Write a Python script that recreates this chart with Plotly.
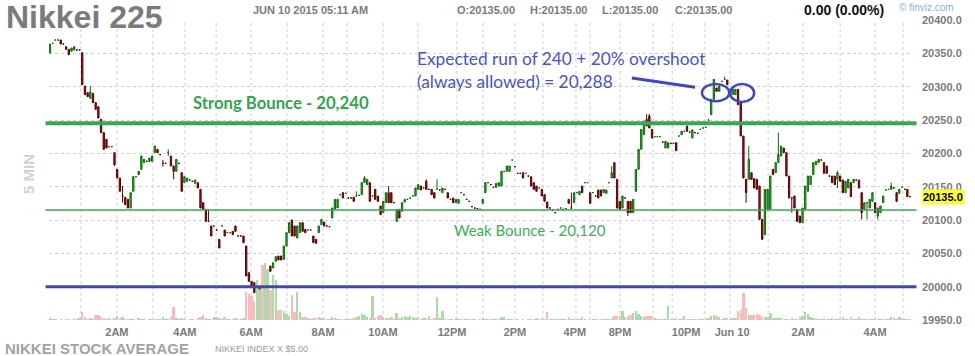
import plotly.graph_objects as go

# ---------------- data (5-minute bars) ----------------
opens = [20351,20365,20370,20370,20370,20364,20360,20356,20353,20355,20355,20355,20351,20301,20291,20283,20290,20276,20270,20251,
20231,20221,20210,20210,20201,20176,20163,20136,20134,20131,20118,20143,20165,20168,20176,20186,20188,20188,20188,20201,
20206,20198,20185,20185,20201,20196,20181,20173,20185,20171,20156,20158,20160,20158,20155,20156,20146,20126,20116,20098,
20091,20091,20085,20071,20091,20085,20081,20081,20083,20091,20076,20076,20076,20061,20021,20008,20006,19993,19996,20010,
20006,20015,20031,20028,20038,20046,20046,20041,20061,20081,20100,20091,20073,20081,20096,20086,20085,20085,20076,20071,
20081,20093,20097,20091,20090,20103,20116,20118,20138,20141,20140,20133,20133,20134,20136,20137,20138,20156,20153,20156,
20136,20146,20136,20121,20111,20126,20141,20141,20126,20098,20116,20113,20127,20131,20133,20136,20136,20146,20151,20148,
20158,20146,20146,20141,20146,20145,20141,20146,20141,20131,20133,20126,20125,20141,20138,20131,20128,20120,20118,20117,
20116,20125,20141,20156,20153,20149,20149,20151,20151,20173,20173,20173,20190,20180,20170,20170,20171,20170,20166,20165,
20156,20151,20148,20146,20138,20127,20118,20115,20111,20116,20118,20116,20117,20131,20118,20126,20141,20138,20151,20156,
20156,20141,20141,20136,20145,20145,20141,20140,20156,20163,20186,20161,20128,20118,20133,20128,20128,20111,20143,20176,
20206,20228,20251,20256,20236,20225,20225,20225,20217,20208,20208,20215,20215,20216,20226,20228,20233,20241,20232,20223,
20231,20230,20236,20238,20239,20250,20258,20281,20298,20293,20308,20311,20310,20295,20288,20288,20296,20276,20226,20161,
20161,20171,20162,20161,20151,20101,20078,20116,20116,20176,20171,20186,20196,20208,20201,20166,20133,20136,20116,20106,
20096,20116,20143,20153,20168,20183,20186,20190,20186,20181,20166,20166,20166,20161,20166,20160,20141,20148,20156,20156,
20160,20160,20141,20116,20126,20118,20128,20126,20106,20111,20126,20145,20146,20146,20148,20141,20140,20149,20146,20146,
20135]
closes = [20364,20365,20370,20370,20364,20364,20356,20348,20358,20360,20355,20355,20303,20288,20285,20292,20276,20266,20253,20231,
20206,20208,20210,20210,20183,20163,20143,20136,20123,20118,20141,20165,20165,20173,20196,20191,20188,20193,20196,20211,
20201,20198,20185,20185,20201,20181,20173,20191,20185,20143,20165,20163,20160,20158,20160,20148,20118,20116,20098,20098,
20076,20091,20085,20058,20091,20076,20081,20081,20078,20083,20076,20076,20066,20016,20008,20001,19991,19997,20001,20003,
20013,20025,20023,20036,20045,20040,20040,20061,20081,20096,20076,20076,20091,20096,20083,20081,20085,20085,20066,20065,
20091,20101,20091,20091,20090,20118,20131,20131,20138,20133,20140,20133,20133,20128,20136,20137,20156,20163,20161,20128,
20136,20131,20128,20108,20128,20141,20126,20126,20126,20116,20103,20126,20131,20131,20133,20136,20148,20153,20145,20148,
20146,20146,20138,20133,20146,20145,20148,20146,20133,20131,20126,20131,20131,20141,20138,20131,20128,20120,20118,20117,
20116,20131,20156,20156,20153,20149,20155,20156,20173,20173,20181,20181,20190,20180,20170,20170,20163,20170,20166,20151,
20146,20143,20148,20136,20128,20118,20118,20115,20111,20116,20118,20116,20117,20125,20118,20141,20141,20143,20141,20156,
20156,20125,20141,20136,20133,20136,20146,20145,20156,20171,20163,20118,20116,20136,20133,20111,20111,20131,20176,20206,
20236,20248,20241,20238,20223,20225,20225,20225,20217,20218,20216,20215,20215,20204,20226,20233,20233,20233,20232,20235,
20231,20230,20236,20238,20239,20250,20281,20311,20293,20301,20308,20311,20303,20295,20296,20296,20273,20226,20163,20141,
20191,20161,20148,20146,20101,20071,20146,20146,20166,20168,20186,20198,20211,20201,20166,20133,20133,20118,20098,20096,
20118,20151,20166,20166,20186,20188,20191,20190,20170,20170,20166,20156,20153,20171,20158,20141,20158,20161,20135,20161,
20160,20148,20111,20126,20126,20131,20141,20111,20118,20121,20136,20145,20146,20151,20148,20128,20146,20149,20146,20135,
20135]
# explicit wick extremes where a wick sticks out of the body: {bar: (high, low)}
wicks = {0: (20364, 20349), 15: (20301, 20281), 24: (20201, 20181), 27: (20151, 20126), 42: (20190, 20180),
         44: (20206, 20196), 46: (20181, 20161), 59: (20116, 20098), 114: (20143, 20136), 117: (20166, 20156),
         126: (20151, 20126), 140: (20161, 20146), 144: (20161, 20146), 194: (20141, 20118), 209: (20181, 20163),
         210: (20187, 20163), 215: (20128, 20106), 222: (20259, 20241), 223: (20259, 20238), 251: (20315, 20311),
         259: (20161, 20126), 260: (20211, 20161), 271: (20231, 20186), 276: (20133, 20111), 293: (20174, 20148),
         302: (20141, 20101), 304: (20126, 20101), 308: (20118, 20101), 313: (20156, 20146)}
# volume per bar (contracts)
volumes = [20,10,10,0,10,0,10,10,0,10,10,20,80,30,10,20,10,50,50,30,
20,10,20,10,20,40,20,30,10,10,10,10,0,20,10,10,0,10,10,10,
10,10,30,10,10,30,130,20,10,20,10,0,10,10,0,20,30,50,20,10,
10,30,30,20,10,30,10,10,10,20,10,10,20,280,260,240,180,400,300,550,
570,500,300,450,400,100,100,90,60,40,250,80,280,80,30,30,20,10,20,20,
30,20,20,10,10,30,20,10,10,10,10,10,10,20,30,40,60,50,30,20,
240,20,40,50,30,20,20,30,10,70,20,30,40,30,40,30,20,30,10,20,
20,40,10,20,230,20,90,10,10,10,10,20,10,10,10,10,10,10,10,0,
10,20,10,10,10,10,10,10,30,30,10,10,10,0,10,0,10,0,10,10,
10,20,10,20,10,80,10,10,10,10,10,10,10,30,10,10,10,10,30,10,
0,10,10,10,10,10,10,10,10,20,40,40,40,90,30,40,50,70,90,60,
40,30,40,40,40,20,10,10,10,10,140,10,10,20,10,10,40,10,10,10,
10,10,10,10,10,20,40,50,40,30,10,20,20,10,20,20,90,100,270,120,
50,50,50,60,50,30,30,30,70,20,20,20,20,10,10,10,20,10,10,30,
40,80,60,30,20,10,10,10,20,10,10,20,10,10,20,30,10,10,30,10,
10,30,10,10,10,10,10,20,10,10,10,10,10,30,20,10,30,10,10,10,
10]

highs = [max(o, c) for o, c in zip(opens, closes)]
lows = [min(o, c) for o, c in zip(opens, closes)]
for k, (h, l) in wicks.items():
    highs[k] = h
    lows[k] = l

bars = list(range(len(opens)))

tick_pos = [24.9, 50.2, 74.8, 101.6, 123.9, 149.6, 173.0, 195.3, 212.1, 236.7, 253.8, 280.2, 307.0]
tick_text = ["2AM", "4AM", "6AM", "8AM", "10AM", "12PM", "2PM", "4PM", "8PM", "10PM", "Jun 10", "2AM", "4AM"]
grid_pos = [11.5, 24.9, 38.3, 50.2, 61.8, 74.8, 88.2, 101.6, 110.5, 123.9, 136.9, 151.4, 161.1, 173.0, 183.4,
            195.7, 200.9, 212.1, 224.4, 231.5, 243.7, 253.0, 267.2, 280.2, 294.0, 307.0, 317.4]
price_ticks = [19950, 20000, 20050, 20100, 20150, 20200, 20250, 20300, 20350, 20400]

strong_level = 20245
weak_level = 20115
base_level = 20000
last_price = 20135

# ---------------- figure ----------------
W, H = 975, 356
L, R, T, B = 49, 62, 20, 36
PW, PH = W - L - R, H - T - B
XR = [-0.37, 321.1]


def px(x):
    return (x - L) / PW


def py(y):
    return (H - B - y) / PH


vol_colors = ["#a9dca9" if c >= o else "#f8bcbc" for o, c in zip(opens, closes)]

fig = go.Figure()
fig.add_trace(go.Bar(x=bars, y=volumes, yaxis="y2", marker=dict(color=vol_colors, line=dict(width=0)),
                     width=0.9, hoverinfo="skip", showlegend=False))
fig.add_trace(go.Candlestick(
    x=bars, open=opens, high=highs, low=lows, close=closes,
    increasing=dict(line=dict(color="#0d6b0d", width=1), fillcolor="#2fc42f"),
    decreasing=dict(line=dict(color="#5a0000", width=1), fillcolor="#c01018"),
    whiskerwidth=0, hoverinfo="skip", showlegend=False,
))

shapes = []
for g in grid_pos:
    shapes.append(dict(type="line", xref="x", yref="paper", x0=g, x1=g, y0=0, y1=1,
                       line=dict(color="#cfcfcf", width=1, dash="3px,3px"), layer="below"))
for lvl, col, wd in [(strong_level, "#3aa655", 4), (weak_level, "#3aa655", 1.5), (base_level, "#4346b6", 3)]:
    shapes.append(dict(type="line", xref="paper", yref="y", x0=-0.004, x1=1.004, y0=lvl, y1=lvl,
                       line=dict(color=col, width=wd), layer="above"))
# hand-drawn markup
shapes.append(dict(type="line", xref="x", yref="y", x0=216.5, x1=240.0, y0=20313, y1=20299,
                   line=dict(color="#3f47c4", width=3)))
shapes.append(dict(type="circle", xref="x", yref="y", x0=242.6, x1=252.7, y0=20278, y1=20304,
                   line=dict(color="#3f47c4", width=2.5)))
shapes.append(dict(type="circle", xref="x", yref="y", x0=253.0, x1=262.0, y0=20277, y1=20304,
                   line=dict(color="#3f47c4", width=2.5)))

ann = []


def txt(x, y, s, size, color, bold=False, family="Liberation Sans, Arial", xanchor="left", angle=0):
    ann.append(dict(xref="paper", yref="paper", x=px(x), y=py(y), text=s, showarrow=False,
                    xanchor=xanchor, yanchor="middle", textangle=angle,
                    font=dict(size=size, color=color, family=family, weight="bold" if bold else "normal")))


txt(4, 17, "Nikkei 225", 32, "#7b7b7b", True)
txt(251, 10, "JUN 10 2015 05:11 AM", 11, "#7b7b7b", True)
txt(455, 10, "O:20135.00", 11, "#7b7b7b", True)
txt(528, 10, "H:20135.00", 11, "#7b7b7b", True)
txt(600, 10, "L:20135.00", 11, "#7b7b7b", True)
txt(673, 10, "C:20135.00", 11, "#7b7b7b", True)
txt(802, 10, "0.00 (0.00%)", 14, "#111111", True)
txt(897, 7, "© finviz.com", 10, "#8ab0d6")
txt(28, 174, "5 MIN", 15, "#d2d2d2", True, xanchor="center", angle=-90)
txt(3, 348, "NIKKEI STOCK AVERAGE", 15, "#a3a3a3", True)
txt(213, 349, "NIKKEI INDEX X $5.00", 9, "#9a9a9a")
txt(191, 103, "Strong Bounce - 20,240", 16.7, "#2fa650", True, family="Lato")
txt(452, 230, "Weak Bounce - 20,120", 15, "#3cae5c", family="Lato")
txt(415, 58, "Expected run of 240 + 20% overshoot", 17.3, "#4a54c6", family="Lato")
txt(415, 81, "(always allowed) = 20,288", 17.3, "#4a54c6", family="Lato")

ann.append(dict(xref="paper", yref="y", x=px(921), y=last_price, text="20135.0", showarrow=False,
                xanchor="left", yanchor="middle", bgcolor="#ffff33", borderpad=1,
                font=dict(size=11, color="#000000", family="Liberation Sans, Arial", weight="bold")))

fig.update_layout(
    width=W, height=H, margin=dict(l=L, r=R, t=T, b=B),
    paper_bgcolor="white", plot_bgcolor="white",
    showlegend=False, shapes=shapes, annotations=ann, bargap=0,
    xaxis=dict(range=XR, rangeslider=dict(visible=False), showgrid=False, zeroline=False,
               tickmode="array", tickvals=tick_pos, ticktext=tick_text, ticks="", ticklabelstandoff=4,
               tickfont=dict(size=11, color="#7b7b7b", family="Liberation Sans, Arial", weight="bold"),
               fixedrange=True),
    yaxis=dict(range=[19950, 20400], side="right", tickmode="array", tickvals=price_ticks,
               tickformat=".1f", showgrid=True, gridcolor="#d0d0d0", griddash="3px,3px", gridwidth=1,
               zeroline=False, ticks="", ticklabelstandoff=8,
               tickfont=dict(size=11, color="#7b7b7b", family="Liberation Sans, Arial", weight="bold"),
               fixedrange=True),
    yaxis2=dict(range=[0, 3000], overlaying="y", visible=False, fixedrange=True),
)

fig.write_html("out.html")
